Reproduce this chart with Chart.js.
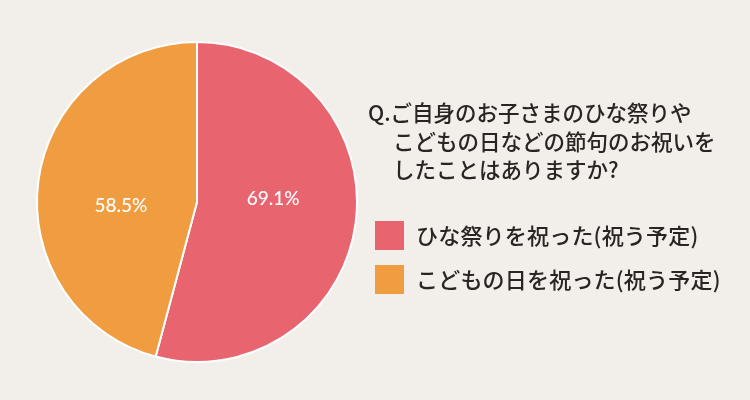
<!DOCTYPE html>
<html>
<head>
<meta charset="utf-8">
<script src="https://cdn.jsdelivr.net/npm/chart.js@4"></script>
<style>
  html, body { margin: 0; padding: 0; background: #f2eeea; }
  #wrap { width: 750px; height: 400px; }
</style>
</head>
<body>
<div id="wrap"><canvas id="myPieChart" width="750" height="400"></canvas></div>
<script>
// chart values
const labels = ["ひな祭りを祝った(祝う予定)", "こどもの日を祝った(祝う予定)"];
const values = [69.1, 58.5];
const colors = ["#e8646e", "#f09d41"];
const questionLines = ["Q.ご自身のお子さまのひな祭りや", "こどもの日などの節句のお祝いを", "したことはありますか?"];

const jpFont = '"Noto Sans CJK JP", "Noto Sans", sans-serif';

// value labels inside the slices
const sliceLabels = {
  id: 'sliceLabels',
  afterDatasetsDraw(chart) {
    const ctx = chart.ctx;
    const meta = chart.getDatasetMeta(0);
    ctx.save();
    ctx.fillStyle = '#ffffff';
    ctx.font = '500 19px Lato, "Noto Sans", sans-serif';
    ctx.textAlign = 'center';
    ctx.textBaseline = 'middle';
    meta.data.forEach((arc, i) => {
      const mid = (arc.startAngle + arc.endAngle) / 2;
      const x = arc.x + Math.cos(mid) * arc.outerRadius * 0.48;
      const y = arc.y + (i === 0 ? -3 : 4);
      ctx.fillText(values[i].toFixed(1) + '%', x, y);
    });
    ctx.restore();
  }
};

// question text and legend on the right
const sideText = {
  id: 'sideText',
  afterDraw(chart) {
    const ctx = chart.ctx;
    ctx.save();
    ctx.fillStyle = '#2a2522';
    ctx.font = '500 21.5px ' + jpFont;
    ctx.textBaseline = 'middle';
    ctx.textAlign = 'left';
    ctx.fillText(questionLines[0], 368, 113);
    ctx.fillText(questionLines[1], 393, 142);
    ctx.fillText(questionLines[2], 393, 170);
    labels.forEach((lab, i) => {
      const y = 221 + i * 44;
      ctx.fillStyle = colors[i];
      ctx.fillRect(375, y, 29, 29);
      ctx.fillStyle = '#2a2522';
      ctx.font = '500 22px ' + jpFont;
      ctx.letterSpacing = '0.2px';
      ctx.fillText(lab, 416, y + 15);
    });
    ctx.restore();
  }
};

var ctx = document.getElementById("myPieChart");
var myPieChart = new Chart(ctx, {
  type: 'pie',
  data: {
    labels: labels,
    datasets: [{
      data: values,
      backgroundColor: colors,
      borderColor: '#ffffff',
      borderWidth: 2
    }]
  },
  options: {
    responsive: false,
    animation: false,
    layout: {
      padding: { left: 36, right: 392, top: 41, bottom: 37 }
    },
    plugins: {
      legend: { display: false },
      tooltip: { enabled: false }
    }
  },
  plugins: [sliceLabels, sideText]
});
</script>
</body>
</html>
